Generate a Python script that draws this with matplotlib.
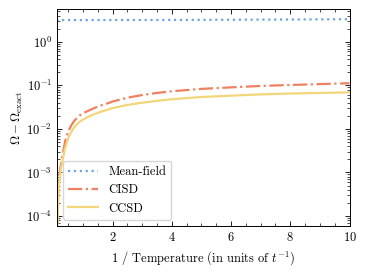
import matplotlib
matplotlib.use("Agg")
import matplotlib.pyplot as plt
from matplotlib.ticker import MultipleLocator, LogLocator, NullFormatter

plt.rcParams['font.family'] = 'serif'
plt.rcParams['font.serif'] = ['cmr10', 'DejaVu Serif']
plt.rcParams['mathtext.fontset'] = 'cm'
plt.rcParams['axes.formatter.use_mathtext'] = True
plt.rcParams['font.size'] = 9

# inverse temperature
beta = [0.1, 0.14, 0.16, 0.18, 0.2, 0.25, 0.3, 0.35, 0.4, 0.5, 0.6, 0.7, 0.8,
        0.9, 1.0, 1.2, 1.4, 1.6, 1.8, 2.0, 2.5, 3.0, 3.5, 4.0, 4.5, 5.0, 6.0,
        7.0, 8.0, 9.0, 10.0]

mean_field = [3.15, 3.15, 3.15, 3.15, 3.15, 3.15, 3.15, 3.15, 3.15, 3.15, 3.15,
              3.15, 3.15, 3.15, 3.15, 3.15, 3.15, 3.15, 3.16, 3.16, 3.16, 3.17,
              3.17, 3.18, 3.18, 3.19, 3.21, 3.23, 3.25, 3.27, 3.3]
cisd = [2e-5, 6e-5, 2.5e-4, 5e-4, 7.5e-4, 0.0014, 0.0022, 0.0033, 0.0052,
        0.0085, 0.0118, 0.0150, 0.0178, 0.0205, 0.0228, 0.0265, 0.0305, 0.0345,
        0.038, 0.0425, 0.052, 0.060, 0.067, 0.073, 0.078, 0.083, 0.090, 0.097,
        0.102, 0.107, 0.112]
ccsd = [1.5e-5, 5e-5, 1.5e-4, 3.5e-4, 5.5e-4, 0.0011, 0.0017, 0.0025, 0.0036,
        0.0060, 0.0083, 0.0108, 0.0128, 0.0148, 0.0163, 0.0193, 0.022, 0.0247,
        0.0272, 0.030, 0.0355, 0.040, 0.044, 0.048, 0.051, 0.054, 0.058, 0.062,
        0.065, 0.067, 0.069]

fig = plt.figure(figsize=(3.66, 2.72), dpi=100)
ax = fig.add_axes([0.156, 0.169, 0.799, 0.798])

ax.plot(beta, mean_field, ':', color='#6fa3e0', lw=1.6, label='Mean-field')
ax.plot(beta, cisd, '-.', color='#ef8060', lw=1.6, label='CISD')
ax.plot(beta, ccsd, '-', color='#f3d67a', lw=1.6, label='CCSD')

ax.set_yscale('log')
ax.set_xlim(0.13, 10)
ax.set_ylim(5.9e-5, 5.67)
ax.xaxis.set_major_locator(MultipleLocator(2))
ax.xaxis.set_minor_locator(MultipleLocator(0.5))
ax.yaxis.set_major_locator(LogLocator(base=10, numticks=10))
ax.yaxis.set_minor_locator(LogLocator(base=10, subs=range(2, 10), numticks=10))
ax.yaxis.set_minor_formatter(NullFormatter())
ax.tick_params(which='both', direction='in', top=True, right=True)
ax.tick_params(which='major', length=3.5, width=0.6)
ax.tick_params(which='minor', length=2, width=0.5)
for s in ax.spines.values():
    s.set_linewidth(0.7)

ax.set_xlabel(r'1 / Temperature (in units of $t^{-1}$)')
ax.set_ylabel(r'$\Omega - \Omega_{\rm exact}$', labelpad=1)
ax.legend(loc='lower left', handlelength=2.4, fancybox=True, framealpha=0.8)

fig.savefig('out.png', dpi=100)
